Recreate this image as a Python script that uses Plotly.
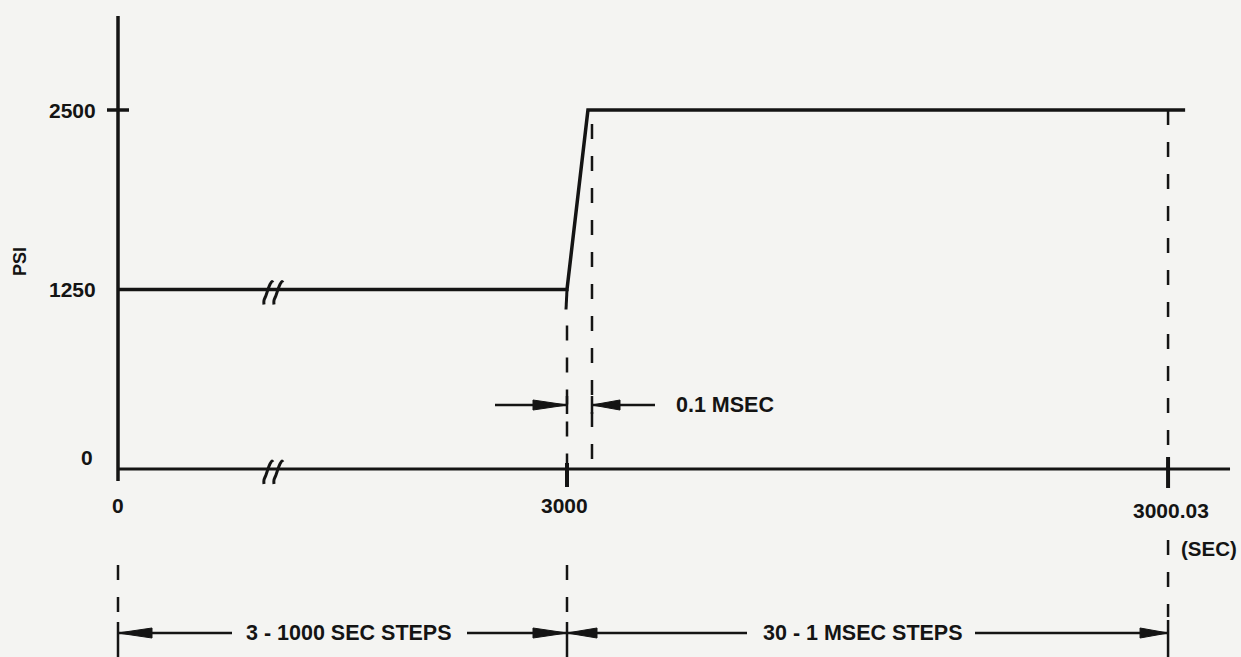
import plotly.graph_objects as go

# ---------------- data ----------------
psi_ticks = [0, 1250, 2500]
psi_labels = ["0", "1250", "2500"]

time_labels = ["0", "3000", "3000.03"]
# schematic (broken, not-to-scale) positions of the time ticks along the axis
time_pos = [0, 3000, 7016]

# pressure history: 1250 psi hold, 0.1 msec ramp, 2500 psi hold (schematic time positions)
trace_time_pos = [0, 3000, 3140, 7130]
trace_psi = [1250, 1250, 2500, 2500]

ramp_end_pos = 3167        # end of the 0.1 msec rise
break_pos = 1002           # axis break symbol
axis_end_pos = 7430

span_labels = ["3 - 1000 SEC STEPS", "30 - 1 MSEC STEPS"]
rise_label = "0.1 MSEC"
y_title = "PSI"
x_unit = "(SEC)"

# ---------------- geometry helpers ----------------
W, H = 1241, 657
X0_PX, Y0_PX = 118, 469
PXX = 449 / 3000.0      # px per x unit
PXY = 359 / 2500.0      # px per psi


def ox(px):
    return px / PXX


def oy(px):
    return px / PXY


x_range = [-X0_PX / PXX, (W - X0_PX) / PXX]
y_range = [-(H - Y0_PX) / PXY, Y0_PX / PXY]

INK = "#141414"
BG = "#f4f4f2"
FONT = "Liberation Sans, Arial, sans-serif"

fig = go.Figure()
shapes = []


def seg(x0, y0, x1, y1, w=3, dash=None):
    ln = dict(color=INK, width=w)
    if dash:
        ln["dash"] = dash
    shapes.append(dict(type="line", xref="x", yref="y", x0=x0, y0=y0, x1=x1, y1=y1,
                       line=ln, layer="above"))


def head(x_tip, y, direction, length_px=34, half_px=5):
    base = x_tip - direction * ox(length_px)
    fig.add_trace(go.Scatter(
        x=[x_tip, base, base, x_tip], y=[y, y + oy(half_px), y - oy(half_px), y],
        mode="lines", fill="toself", fillcolor=INK,
        line=dict(color=INK, width=1), hoverinfo="skip", showlegend=False))


DASH = "15px,17px"

# axes
seg(0, -oy(12), 0, oy(453), w=3.5)                      # y axis
seg(0, 0, axis_end_pos, 0, w=3)                          # x axis
seg(-ox(11), psi_ticks[2], ox(11), psi_ticks[2], w=3.5)  # 2500 tick
seg(time_pos[1], oy(6), time_pos[1], -oy(18), w=4)       # 3000 tick
seg(time_pos[2], oy(12), time_pos[2], -oy(19), w=4)      # 3000.03 tick

# pressure trace
fig.add_trace(go.Scatter(x=trace_time_pos, y=trace_psi, mode="lines",
                         line=dict(color=INK, width=3.5), hoverinfo="skip",
                         showlegend=False))
# short solid overshoot of the ramp line below the 1250 level
seg(time_pos[1], trace_psi[1], time_pos[1] - ox(1), trace_psi[1] - oy(20), w=3)

# axis-break symbols on the 1250 line and the 0 line
brk_dx = [-4, -4, -2, 0, 2, 4, 5]
brk_dy = [-15, -11, -6, 0, 5, 8, 7]
for yb in (psi_ticks[1], psi_ticks[0]):
    for k in (0, 10):
        fig.add_trace(go.Scatter(
            x=[break_pos + ox(k + d) for d in brk_dx],
            y=[yb + oy(d) for d in brk_dy],
            mode="lines", line=dict(color=INK, width=3, shape="spline"),
            hoverinfo="skip", showlegend=False))

# dashed extension lines above the axis
seg(time_pos[1], trace_psi[1] - oy(36), time_pos[1], 0, w=2.5, dash=DASH)
seg(ramp_end_pos, trace_psi[2] - oy(14), ramp_end_pos, 0, w=2.5, dash=DASH)
seg(time_pos[2], trace_psi[2], time_pos[2], 0, w=2.5, dash=DASH)

# dashed extension lines below the axis + end bars of dimension lines
y_dim = -oy(164)
for xp in (time_pos[0], time_pos[1]):
    seg(xp, -oy(96), xp, -oy(150), w=2.5, dash=DASH)
    seg(xp, -oy(153), xp, -oy(200), w=2.5)
seg(time_pos[2], -oy(71), time_pos[2], -oy(148), w=2.5, dash=DASH)
seg(time_pos[2], -oy(151), time_pos[2], -oy(200), w=2.5)

# 0.1 msec rise dimension
y_rise = oy(64)
seg(time_pos[1] - ox(72), y_rise, time_pos[1], y_rise, w=2.5)
head(time_pos[1], y_rise, +1)
seg(time_pos[1], y_rise - oy(9), time_pos[1], y_rise + oy(9), w=2.5)
seg(ramp_end_pos, y_rise, ramp_end_pos + ox(63), y_rise, w=2.5)
head(ramp_end_pos, y_rise, -1, length_px=28)
seg(ramp_end_pos, y_rise - oy(9), ramp_end_pos, y_rise + oy(9), w=2.5)

# bottom span dimensions
seg(time_pos[0], y_dim, time_pos[0] + ox(114), y_dim, w=2.5)
head(time_pos[0], y_dim, -1)
seg(time_pos[0] + ox(349), y_dim, time_pos[1], y_dim, w=2.5)
head(time_pos[1], y_dim, +1)
seg(time_pos[1], y_dim, time_pos[1] + ox(180), y_dim, w=2.5)
head(time_pos[1], y_dim, -1, length_px=30)
seg(time_pos[1] + ox(408), y_dim, time_pos[2], y_dim, w=2.5)
head(time_pos[2], y_dim, +1, length_px=28)

# ---------------- text ----------------
ann = []


def txt(x, y, s, size=21, xanchor="center", angle=0):
    ann.append(dict(x=x, y=y, xref="x", yref="y", text=s, showarrow=False,
                    xanchor=xanchor, yanchor="middle", textangle=angle,
                    font=dict(family=FONT, size=size, color=INK, weight="bold")))


txt(-ox(20), psi_ticks[2], psi_labels[2], xanchor="right")
txt(-ox(20), psi_ticks[1], psi_labels[1], xanchor="right")
txt(-ox(23), psi_ticks[0] + oy(12), psi_labels[0], xanchor="right")
txt(-ox(98), oy(207), y_title, size=18, angle=-90)

txt(time_pos[0], -oy(36), time_labels[0])
txt(time_pos[1] - ox(3), -oy(36), time_labels[1])
txt(time_pos[2] + ox(3), -oy(41), time_labels[2])
txt(time_pos[2] + ox(41), -oy(79), x_unit, size=20.5)

txt(time_pos[1] + ox(158), y_rise, rise_label, size=21.5)
txt(time_pos[0] + ox(231), y_dim, span_labels[0], size=21.5)
txt(time_pos[1] + ox(296), y_dim, span_labels[1], size=21.5)

fig.update_layout(
    width=W, height=H, autosize=False,
    margin=dict(l=0, r=0, t=0, b=0, pad=0),
    paper_bgcolor=BG, plot_bgcolor=BG,
    xaxis=dict(range=x_range, visible=False, fixedrange=True),
    yaxis=dict(range=y_range, visible=False, fixedrange=True),
    shapes=shapes, annotations=ann, showlegend=False, hovermode=False,
)

fig.write_html("out.html", config={"displayModeBar": False},
               post_script="document.body.style.margin='0';document.body.style.overflow='hidden';")
